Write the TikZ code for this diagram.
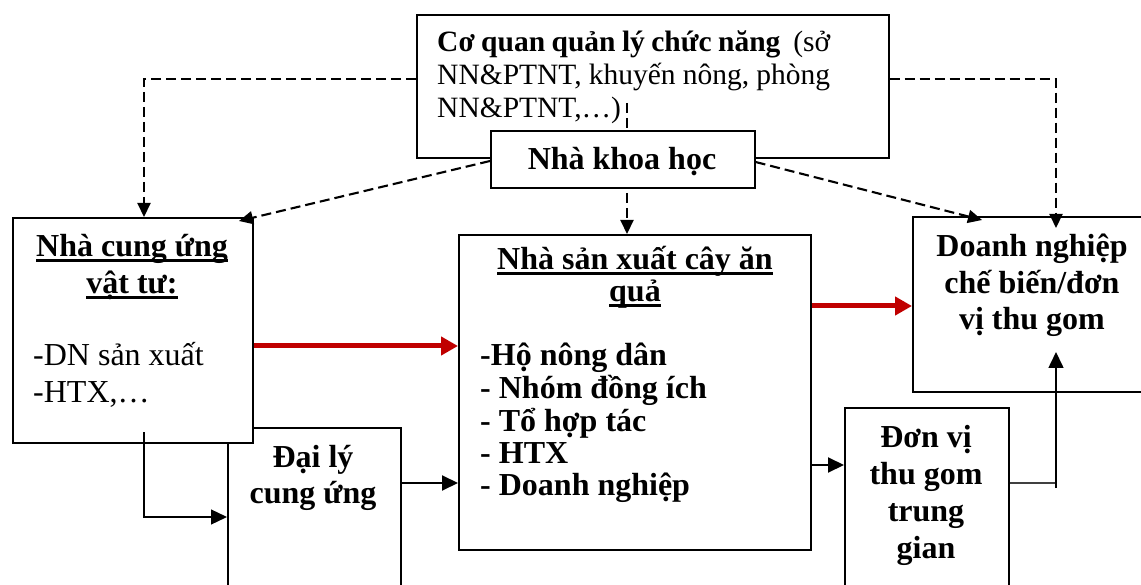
\documentclass[tikz,border=0pt]{standalone}
\usepackage{fontspec}
\setmainfont{Liberation Serif}
\usetikzlibrary{arrows.meta}
\definecolor{flowred}{RGB}{192,0,0}
% heavy underline for box titles
\newcommand\heavyul[1]{\setbox0\hbox{#1}\rlap{\rule[-0.16em]{\wd0}{0.09em}}\box0}
\tikzset{
  boxframe/.style={draw, line width=1.6pt, fill=white, inner sep=0pt, anchor=north west},
  txt/.style={inner sep=0pt, anchor=base},
  boldtx/.style={font=\fontsize{32}{#1}\selectfont\bfseries},
  regtx/.style={font=\fontsize{32}{#1}\selectfont},
  dasharr/.style={line width=2.1pt, dash pattern=on 10pt off 5pt, -{Triangle[length=14pt,width=13pt]}},
  redarr/.style={line width=5pt, flowred, -{Triangle[length=17pt,width=18pt]}},
  blkarr/.style={line width=2pt, -{Triangle[length=16pt,width=15pt]}},
  thinline/.style={line width=1.3pt}
}
\begin{document}
\begin{tikzpicture}[x=1pt,y=-1pt]
\useasboundingbox (0,0) rectangle (1141,585);
\clip (0,0) rectangle (1141,585);

% management box and the scientists box laid over its lower edge
\node[boxframe, minimum width=472pt, minimum height=143pt] (top) at (416,14) {};
\node[txt, anchor=base west] (toptext) at (437,52)
  {\fontsize{29.5}{33}\selectfont\parbox[t]{393pt}{\textbf{Cơ quan quản lý chức năng}~ (sở\linebreak
   NN\&PTNT, khuyến nông, phòng\linebreak NN\&PTNT,…)}};
\coordinate (topdrop) at (627,103);

% boxes of the lower row (supplier box overlaps the agent box)
\node[boxframe, minimum width=173pt, minimum height=180pt] (agent) at (227,427) {};
\node[boxframe, minimum width=240pt, minimum height=225pt] (sup) at (12,217) {};
\node[boxframe, minimum width=352pt, minimum height=315pt] (prod) at (458,234) {};
\node[boxframe, minimum width=240pt, minimum height=175pt] (proc) at (912,216) {};
\node[boxframe, minimum width=164pt, minimum height=200pt] (coll) at (844,407) {};

% dashed link straight down to the producers
\draw[dasharr] (topdrop) -- (prod.north -| 627,0);

\node[boxframe, minimum width=264pt, minimum height=57pt] (sci) at (490,130) {};
\node[txt, font=\fontsize{32}{36}\selectfont\bfseries] (scitext) at (622,170) {Nhà khoa học};

% texts
\node[txt, boldtx=37] (suptitle) at (132,257)
  {\begin{tabular}[t]{@{}c@{}}\heavyul{Nhà cung ứng}\\ \heavyul{vật tư:}\end{tabular}};
\node[txt, anchor=base west, regtx=37] (suplist) at (33,366)
  {\begin{tabular}[t]{@{}l@{}}-DN sản xuất\\ -HTX,…\end{tabular}};
\node[txt, boldtx=32] (prodtitle) at (635,270)
  {\begin{tabular}[t]{@{}c@{}}\heavyul{Nhà sản xuất cây ăn}\\ \heavyul{quả}\end{tabular}};
\node[txt, anchor=base west, boldtx=32] (prodlist) at (480,366)
  {\begin{tabular}[t]{@{}l@{}}-Hộ nông dân\\ - Nhóm đồng ích\\ - Tổ hợp tác\\ - HTX\\ - Doanh nghiệp\end{tabular}};
\node[txt, boldtx=36.5] (proctext) at (1032,257)
  {\begin{tabular}[t]{@{}c@{}}Doanh nghiệp\\ chế biến/đơn\\ vị thu gom\end{tabular}};
\node[txt, boldtx=36] (agenttext) at (313,467)
  {\begin{tabular}[t]{@{}c@{}}Đại lý\\ cung ứng\end{tabular}};
\node[txt, boldtx=37] (colltext) at (926,447)
  {\begin{tabular}[t]{@{}c@{}}Đơn vị\\ thu gom\\ trung\\ gian\end{tabular}};

% dashed advisory links
\coordinate (supin) at (239,221);
\coordinate (procin) at (982,220);
\coordinate (procdrop) at (1056,228);
\draw[dasharr] (top.west |- 0,79) -| (sup.north -| 144,0);
\draw[dasharr] (top.east |- 0,79) -| (procdrop);
\draw[dasharr] (sci.west |- 0,161) -- (supin);
\draw[dasharr] (sci.east |- 0,162) -- (procin);

% main product flows
\draw[redarr] (sup.east |- 0,346) -- (prod.west |- 0,346);
\draw[redarr] (prod.east |- 0,306) -- (proc.west |- 0,306);
\draw[blkarr] (agent.east |- 0,483) -- (prod.west |- 0,483);
\draw[blkarr] (prod.east |- 0,465) -- (coll.west |- 0,465);

% supplier to agent
\coordinate (supdrop) at (144,432);
\draw[thinline, -{Triangle[length=16pt,width=15pt]}] (supdrop) |- (agent.west |- 0,517);

% collector up to the processor
\coordinate (collturn) at (1056,483);
\coordinate (collrise) at (1056,488);
\coordinate (procup) at (1056,352);
\draw[line width=1.2pt, black!75] (coll.east |- collturn) -- (collturn);
\draw[line width=1.6pt, -{Triangle[length=16pt,width=15pt]}] (collrise) -- (procup);
\end{tikzpicture}
\end{document}
